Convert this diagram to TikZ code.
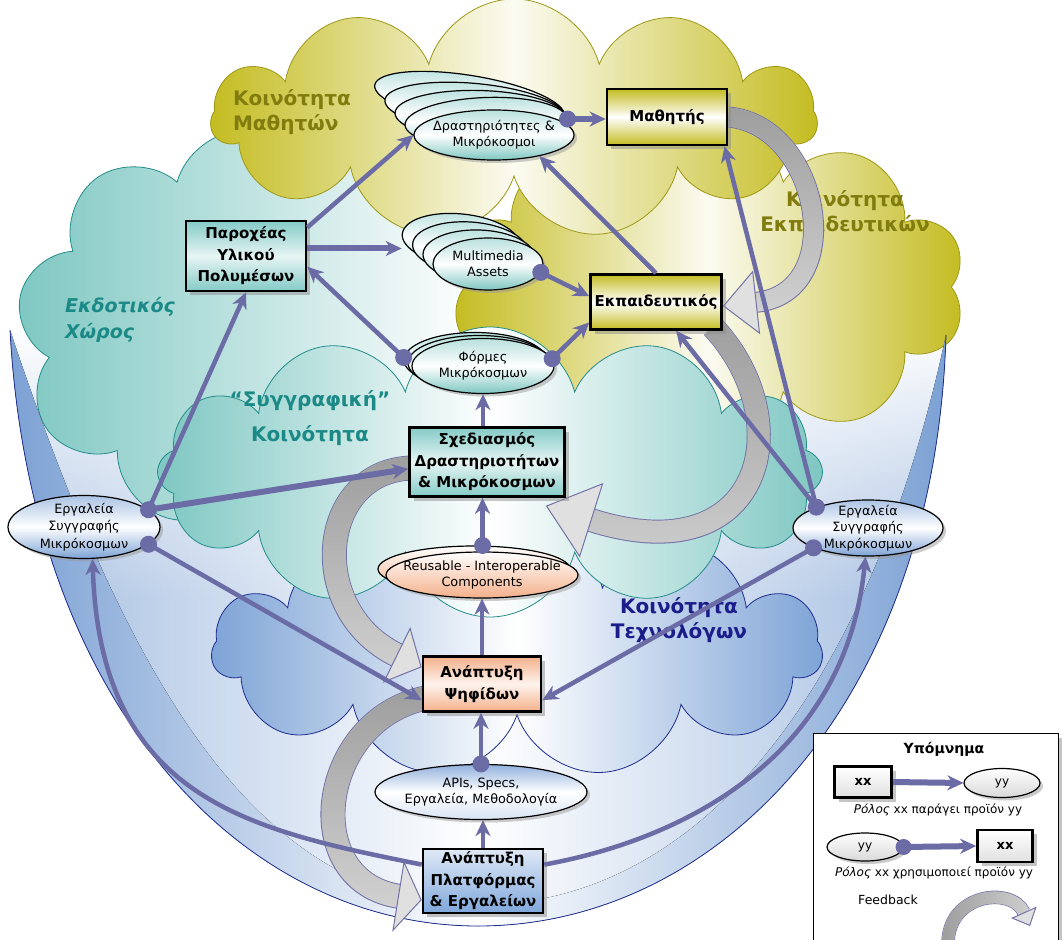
\documentclass[tikz,border=0pt]{standalone}
\usepackage{fontspec}
\setmainfont{DejaVu Sans}
\usetikzlibrary{shapes.geometric,shapes.symbols,arrows.meta,shadows,calc,fadings}
\definecolor{purp}{HTML}{6B6BA5}
\definecolor{olv}{HTML}{C4BC20}
\definecolor{olvline}{HTML}{9E9816}
\definecolor{olvtext}{HTML}{817C0E}
\definecolor{tealc}{HTML}{7EC7C2}
\definecolor{tealline}{HTML}{238D8A}
\definecolor{tealtext}{HTML}{1B8A87}
\definecolor{bluec}{HTML}{7DA3D6}
\definecolor{blueline}{HTML}{1E2D8E}
\definecolor{navytext}{HTML}{1A1D8A}
\definecolor{bandblue}{HTML}{7CA1D4}
\definecolor{salm}{HTML}{F4B08A}
\definecolor{fbgray}{HTML}{D2D2D2}
\definecolor{fbdark}{HTML}{9E9E9E}
\definecolor{fbhead}{HTML}{E0E0E0}
\definecolor{fbline}{HTML}{7272A6}
\definecolor{boxteal}{HTML}{84CBC7}
\definecolor{boxblue}{HTML}{7FA7DB}
\tikzfading[name=fadetop, top color=transparent!0, bottom color=transparent!100]
\tikzfading[name=fadeleft, left color=transparent!0, right color=transparent!100]
\tikzfading[name=fadewhite, top color=transparent!0, bottom color=transparent!100]
\pgfdeclarelayer{bg}
\pgfdeclarelayer{fb}
\pgfsetlayers{bg,fb,main}
% #1 path, #2 head length, #3 head width, #4 band width, #5 outline width, #6 fading
\newcommand{\fbarr}[6]{%
  \draw[draw=fbline, line width=#5, shorten >=#2] #1;
  \draw[draw=fbgray, line width=#4, -{Triangle[length=#2,width=#3,fill=fbhead,color=fbline,line width'=1pt]}] #1;
  \draw[draw=fbdark, line width=#4, shorten >=#2, path fading=#6] #1;}
\tikzset{
  boxb/.style={rectangle, draw=black, line width=2.6pt, align=center, inner sep=1pt,
    font=\fontsize{15}{21.5}\selectfont\bfseries,
    drop shadow={shadow xshift=4pt, shadow yshift=-4pt, fill=black!45}},
  ybox/.style={boxb, top color=olv, bottom color=olv, middle color=white},
  tbox/.style={boxb, top color=boxteal, bottom color=boxteal, middle color=white!80!boxteal},
  sbox/.style={boxb, top color=salm, bottom color=salm, middle color=white!85!salm},
  bbox/.style={boxb, top color=white!75!boxblue, bottom color=boxblue},
  ellb/.style={ellipse, draw=black, line width=1.2pt, inner sep=0pt,
    drop shadow={shadow xshift=3pt, shadow yshift=-3pt, fill=black!40}},
  tell/.style={ellb, top color=white!45!tealc, bottom color=tealc, middle color=white},
  sell/.style={ellb, top color=white, bottom color=salm},
  bell/.style={ellb, top color=white!35!bluec, bottom color=bluec, middle color=white},
  aell/.style={ellb, top color=bluec!85, bottom color=white!70!bluec, middle color=white},
  etxt/.style={align=center, inner sep=0pt, font=\fontsize{12.8}{16}\selectfont},
  conn/.style={draw=purp, line width=4.5pt, -{Stealth[length=16pt,width=15pt,inset=5pt]}},
  connk/.style={conn, line width=6pt},
  udot/.style={fill=purp},
  cloudb/.style={cloud, cloud ignores aspect, inner sep=0pt, line width=0.8pt},
  clab/.style={font=\fontsize{20}{25}\selectfont\bfseries},
}
\begin{document}
\begin{tikzpicture}[x=1pt,y=-1pt]
\useasboundingbox (0,0) rectangle (1062,939);

%================ background: band and clouds
\begin{pgfonlayer}{bg}
\fill[left color=bandblue!70, right color=bandblue!70, middle color=white]
  (946,335) .. controls (870,690) and (700,905) .. (478,905)
  .. controls (260,905) and (130,690) .. (10,330) -- cycle;
\begin{scope}
  \clip (946,335) .. controls (870,690) and (700,905) .. (478,905)
  .. controls (260,905) and (130,690) .. (10,330) -- cycle;
  \fill[white, path fading=fadewhite] (0,330) rectangle (960,600);
\end{scope}
\node[cloudb, cloud puffs=9, minimum width=456pt, minimum height=400pt,
  draw=tealline, left color=tealc, right color=white] (cedk) at (245,330) {};
\node[cloudb, cloud puffs=10, minimum width=515pt, minimum height=325pt,
  draw=olvline, left color=olv, right color=olv, middle color=white!94!olv] (cekp) at (708,287) {};
\fill[left color=bandblue, right color=bandblue, middle color=white]
  (10,330) .. controls (30,700) and (240,926) .. (478,926)
  .. controls (720,926) and (935,700) .. (946,335)
  .. controls (870,690) and (700,905) .. (478,905)
  .. controls (260,905) and (130,690) .. (10,330) -- cycle;
\draw[blueline, line width=0.8pt]
  (10,330) .. controls (30,700) and (240,926) .. (478,926)
  .. controls (720,926) and (935,700) .. (946,335);
\node[cloudb, cloud puffs=11, minimum width=605pt, minimum height=240pt,
  draw=olvline, left color=olv, right color=olv, middle color=white!94!olv] (cmat) at (514,119) {};
\node[cloudb, cloud puffs=11, minimum width=610pt, minimum height=255pt,
  draw=blueline, left color=bluec, right color=bluec, middle color=white] (ctex) at (517,650) {};
\node[cloudb, cloud puffs=12, minimum width=665pt, minimum height=290pt,
  draw=tealline, left color=tealc, right color=tealc, middle color=white] (csyg) at (490,472) {};
\node[clab, text=olvtext, align=left] (lmat) at (292,112) {Κοινότητα\\Μαθητών};
\node[clab, text=olvtext, align=center] (lekp) at (845,211) {Κοινότητα\\Εκπαιδευτικών};
\node[clab, font=\fontsize{19}{26}\selectfont\bfseries\itshape, text=tealtext, align=left] (ledk) at (120,320) {Εκδοτικός\\Χώρος};
\node[clab, font=\fontsize{20}{35}\selectfont\bfseries, text=tealtext, align=center] (lsyg) at (310,418) {“Συγγραφική”\\Κοινότητα};
\node[clab, text=navytext, align=center] (ltex) at (679,620) {Κοινότητα\\Τεχνολόγων};
\end{pgfonlayer}

%================ boxes
\node[ybox, minimum width=120pt, minimum height=56pt] (mat) at (667,117) {Μαθητής};
\node[ybox, minimum width=131pt, minimum height=55pt] (ekp) at (656,302) {Εκπαιδευτικός};
\node[tbox, minimum width=120pt, minimum height=70pt] (par) at (246,256) {Παροχέας\\Υλικού\\Πολυμέσων};
\node[tbox, minimum width=155pt, minimum height=69pt] (sch) at (487,462) {Σχεδιασμός\\Δραστηριοτήτων\\\& Μικρόκοσμων};
\node[sbox, minimum width=118pt, minimum height=55pt] (psi) at (482,684) {Ανάπτυξη\\Ψηφίδων};
\node[bbox, minimum width=120pt, minimum height=64pt] (pla) at (483,881) {Ανάπτυξη\\Πλατφόρμας\\\& Εργαλείων};

%================ ellipses
\node[tell, rotate=-9.3, minimum width=192pt, minimum height=50pt] (dra4) at (469.5,100.5) {};
\node[tell, rotate=-5.4, minimum width=181pt, minimum height=50pt] (dra3) at (475,108.5) {};
\node[tell, rotate=-1.7, minimum width=171pt, minimum height=50pt] (dra2) at (480.5,115.5) {};
\node[tell, rotate=2.1, minimum width=162pt, minimum height=49pt] (dra1) at (486,122) {};
\node[tell, minimum width=160pt, minimum height=50pt] (dra) at (494,135) {};
\node[etxt] (drat) at (dra) {Δραστηριότητες \&\\Μικρόκοσμοι};

\node[tell, rotate=-6, minimum width=118pt, minimum height=52pt] (mm3) at (461,240) {};
\node[tell, rotate=-4, minimum width=115pt, minimum height=52pt] (mm2) at (470,248) {};
\node[tell, rotate=-2, minimum width=112pt, minimum height=52pt] (mm1) at (479,256) {};
\node[tell, minimum width=110pt, minimum height=52pt] (mm) at (488,264) {};
\node[etxt] (mmt) at (mm) {Multimedia\\Assets};

\node[tell, minimum width=142pt, minimum height=55pt] (fo2) at (475,360) {};
\node[tell, minimum width=142pt, minimum height=55pt] (fo1) at (479,363) {};
\node[tell, minimum width=142pt, minimum height=55pt] (fo) at (483,366) {};
\node[etxt] (fot) at (fo) {Φόρμες\\Μικρόκοσμων};

\node[sell, minimum width=192pt, minimum height=46pt] (reu2) at (474,569) {};
\node[sell, minimum width=192pt, minimum height=46pt] (reu) at (482,575) {};
\node[etxt] (reut) at (reu) {Reusable - Interoperable\\Components};

\node[aell, minimum width=212pt, minimum height=55pt] (api) at (481,792) {};
\node[etxt] (apit) at (api) {APIs, Specs,\\Εργαλεία, Μεθοδολογία};

\node[bell, minimum width=152pt, minimum height=63pt] (erL) at (84,527) {};
\node[etxt, font=\fontsize{12.8}{17.5}\selectfont] (erLt) at (erL) {Εργαλεία\\Συγγραφής\\Μικρόκοσμων};
\node[bell, minimum width=150pt, minimum height=56pt] (erR) at (868,528) {};
\node[etxt, font=\fontsize{12.8}{16.5}\selectfont] (erRt) at (erR) {Εργαλεία\\Συγγραφής\\Μικρόκοσμων};

%================ feedback arrows
\begin{pgfonlayer}{fb}
\fbarr{(mat.east) .. controls (820,125) and (850,292) .. ($(ekp.east)+(0,4)$)}{34pt}{64pt}{19pt}{21pt}{fadetop}
\fbarr{($(ekp.south east)+(-10,-4)$) .. controls (800,420) and (765,575) .. ($(sch.south east)+(-20,8)$)}{48pt}{78pt}{22pt}{24pt}{fadetop}
\fbarr{($(sch.west)+(4,6)$) .. controls (318,470) and (305,610) .. ($(psi.north west)+(0,12)$)}{28pt}{62pt}{23pt}{25pt}{fadetop}
\fbarr{($(psi.west)+(4,14)$) .. controls (318,720) and (298,880) .. ($(pla.west)+(0,19)$)}{24pt}{72pt}{23pt}{25pt}{fadetop}
\end{pgfonlayer}

%================ connectors
\draw[connk] (dra1.east) -- (mat.west |- dra1.east);
\draw[conn] (par.25) -- (dra.west);
\draw[connk] (par.7) -- (mm3.west |- par.7);
\draw[conn] (fo2.178) -- (par.-10);
\draw[conn] (mm.-9) -- (ekp.175);
\draw[conn] (fo.6) -- (ekp.197);
\draw[conn] (ekp.north) -- (dra.-25);
\draw[conn] (erR.158) -- (mat.-27);
\draw[conn] (erR.158) -- (ekp.-55);
\draw[conn] (erR.200) -- (psi.-15);
\draw[conn] (erL.15) -- (par.south);
\draw[connk] (erL.15) -- (sch.185);
\draw[conn] (erL.-15) -- (psi.195);
\draw[conn] (sch.north -| fo.south) -- (fo.south);
\draw[conn] (reu2.70) -- (reu2.70 |- sch.south);
\draw[conn] (psi.north) -- (psi.north |- reu.south);
\draw[conn] (api.north) -- (api.north |- psi.south);
\draw[conn] (pla.north) -- (pla.north |- api.south);
\draw[conn] (pla.165) .. controls (250,830) and (100,800) .. (erL.-75);
\draw[conn] (pla.15) .. controls (680,840) and (845,760) .. (erR.-95);

\foreach \p in {dra1.east, mm.-9, fo2.178, fo.6, erR.158, erR.200, erL.15, erL.-15, reu2.70, api.north}
  \fill[udot] (\p) circle (8.5pt);

%================ legend
\node[draw=black, line width=1.2pt, fill=white, minimum width=245pt, minimum height=215pt,
  anchor=north west, drop shadow={shadow xshift=4pt, shadow yshift=-4pt, fill=black!45}] (leg) at (813,733) {};
\node[font=\fontsize{14}{16}\selectfont\bfseries] (lgt) at (944,749) {Υπόμνημα};
\node[boxb, top color=white, bottom color=black!12, minimum width=57pt, minimum height=31pt,
  font=\fontsize{13}{15}\selectfont\bfseries] (lgb1) at (863,782) {xx};
\node[ellb, top color=white, bottom color=black!15, minimum width=76pt, minimum height=29pt] (lge1) at (1002,783) {};
\node[etxt, font=\fontsize{12}{14}\selectfont] (lge1t) at (lge1) {yy};
\draw[connk] (lgb1.east) -- (lge1.west);
\node[font=\fontsize{12}{14}\selectfont] (lgx1) at (938,810) {\textit{Ρόλος} xx παράγει προϊόν yy};
\node[ellb, top color=white, bottom color=black!15, minimum width=76pt, minimum height=28pt] (lge2) at (865,847) {};
\node[etxt, font=\fontsize{12}{14}\selectfont] (lge2t) at (lge2) {yy};
\node[boxb, top color=white, bottom color=black!12, minimum width=55pt, minimum height=32pt,
  font=\fontsize{13}{15}\selectfont\bfseries] (lgb2) at (1005,846) {xx};
\draw[connk] (lge2.east) -- (lgb2.west);
\fill[udot] (lge2.east) circle (8pt);
\node[font=\fontsize{12}{14}\selectfont] (lgx2) at (934,873) {\textit{Ρόλος} xx χρησιμοποιεί προϊόν yy};
\node[font=\fontsize{12.5}{14}\selectfont] (lgfb) at (888,900) {Feedback};
\coordinate (lgf1) at (948,945);
\coordinate (lgf2) at (1030,926);
\fbarr{(lgf1) .. controls (947,893) and (1012,886) .. (lgf2)}{15pt}{28pt}{12pt}{13.5pt}{fadeleft}
\end{tikzpicture}
\end{document}
